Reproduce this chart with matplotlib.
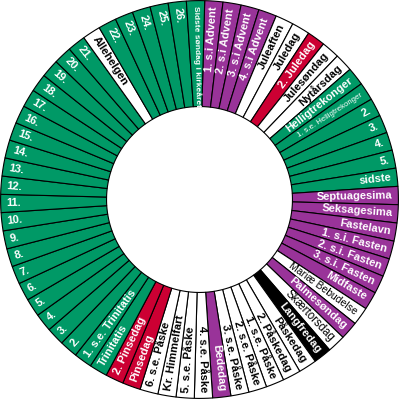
"""
Danish church year wheel: one ring segment per Sunday / holy day,
coloured by liturgical colour, labels running along the radius.
"""

import matplotlib
matplotlib.use("Agg")
import numpy as np
import matplotlib.pyplot as plt
from matplotlib import font_manager

# ── Data (clockwise from 1. s.i Advent) ───────────────────────────────

ADVENT = ["1. s.i Advent", "2. s.i Advent", "3. s.i Advent", "4. s.i Advent"]
CHRISTMAS = ["Juleaften", "Juledag", "2. Juledag", "Julesøndag", "Nytårsdag"]
EPIPHANY = ["Helligtrekonger", "1. s.e. Helligtrekonger", "2.", "3.", "4.", "5.", "sidste"]
LENT = ["Septuagesima", "Seksagesima", "Fastelavn", "1. s.i. Fasten",
        "2. s.i. Fasten", "3. s.i. Fasten", "Midfaste", "Mariæ Bebudelse",
        "Palmesøndag", "Skærtorsdag", "Langfredag"]
EASTER = ["Påskedag", "2. Påskedag", "1. s.e. Påske", "2. s.e. Påske",
          "3. s.e. Påske", "Bededag", "4. s.e. Påske", "5. s.e. Påske",
          "Kr. Himmelfart", "6. s.e. Påske", "Pinsedag", "2. Pinsedag"]
TRINITY = (["Trinitatis", "1. s.e. Trinitatis"]
           + [f"{k}." for k in range(2, 22)]
           + ["Allehelgen"]
           + [f"{k}." for k in range(22, 27)]
           + ["Sidste søndag i kirkeåret"])

LABELS = ADVENT + CHRISTMAS + EPIPHANY + LENT + EASTER + TRINITY

# liturgical colour per segment: g=green, p=purple, w=white, r=red, b=black
KINDS = (["p"] * 4
         + ["w", "w", "r", "w", "w"]
         + ["g"] * 7
         + ["p"] * 7 + ["w", "p", "w", "b"]
         + ["w"] * 5 + ["p"] + ["w"] * 4 + ["r", "r"]
         + ["g"] * 22 + ["w"] + ["g"] * 6)

# ── Style ─────────────────────────────────────────────────────────────

COLORS = {"g": "#009966", "p": "#993399", "w": "#ffffff",
          "r": "#cc0033", "b": "#000000"}
START = 88.5          # angle of the first boundary (degrees)
RING_WIDTH = 106 / 199
TEXT_R = 0.972

installed = {f.name for f in font_manager.fontManager.ttflist}
HAS_NARROW = "Liberation Sans Narrow" in installed

# long labels are set in a condensed face in the original
if HAS_NARROW:
    NARROW = {"Sidste søndag i kirkeåret": (7.0, "bold"),
              "1. s.e. Helligtrekonger": (6.8, "normal")}
else:
    NARROW = {"Sidste søndag i kirkeåret": (6.0, "bold"),
              "1. s.e. Helligtrekonger": (5.6, "normal")}
PLAIN = {"Mariæ Bebudelse": 7.5, "Skærtorsdag": 8.3}

plt.rcParams["font.family"] = ["Liberation Sans", "DejaVu Sans"]

fig = plt.figure(figsize=(3.99, 3.99), dpi=100)
ax = fig.add_axes([0, 0, 1, 1])

n = len(LABELS)
ax.pie([1] * n, colors=[COLORS[k] for k in KINDS], startangle=START,
       counterclock=False, radius=1.0,
       wedgeprops=dict(width=RING_WIDTH, edgecolor="black", linewidth=0.8))

step = 360.0 / n
for i, (lab, kind) in enumerate(zip(LABELS, KINDS)):
    th = START - (i + 0.5) * step
    th = (th + 180) % 360 - 180
    rad = np.deg2rad(th)
    x, y = TEXT_R * np.cos(rad), TEXT_R * np.sin(rad)
    if np.cos(rad) >= 0:
        rot, ha = th, "right"
    else:
        rot, ha = th - 180, "left"

    family = ["Liberation Sans", "DejaVu Sans"]
    if lab in NARROW:
        size, weight = NARROW[lab]
        if HAS_NARROW:
            family = ["Liberation Sans Narrow", "Liberation Sans"]
    elif lab in PLAIN:
        size, weight = PLAIN[lab], "normal"
    else:
        size, weight = 8, "bold"

    ax.text(x, y, lab, rotation=rot, rotation_mode="anchor", ha=ha, va="center",
            fontsize=size, fontweight=weight, family=family,
            color="black" if kind == "w" else "white")

ax.set_xlim(-1.003, 1.003)
ax.set_ylim(-1.003, 1.003)
ax.set_aspect("equal")
ax.axis("off")

fig.savefig("out.png", dpi=100, facecolor="white")
plt.close()
